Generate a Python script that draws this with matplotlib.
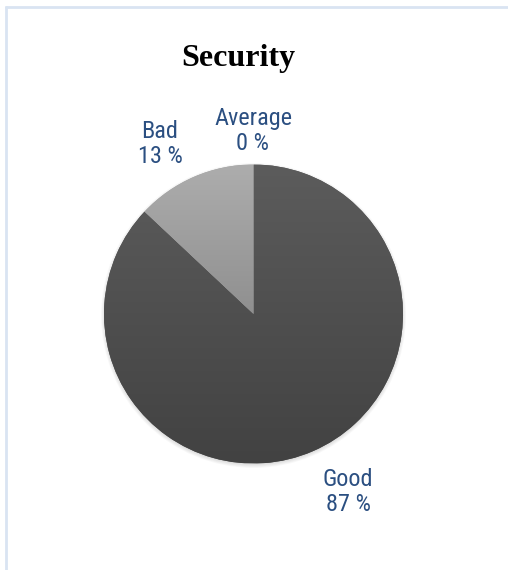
import numpy as np
import matplotlib
matplotlib.use("Agg")
from matplotlib import pyplot as plt
from matplotlib.patches import Circle
from matplotlib.lines import Line2D

# survey answers for the "Security" question
categories = ["Good", "Bad", "Average"]
shares = [87, 13, 0]

W, H = 508, 570
fig = plt.figure(figsize=(W / 100, H / 100), dpi=100)

def fx(px):
    return px / W

def fy(py):
    return 1 - py / H

# light frame on the left and top of the chart area
frame = dict(transform=fig.transFigure, color="#d9e4f2", linewidth=2,
             solid_capstyle="butt")
fig.add_artist(Line2D([fx(5.5), fx(5.5)], [fy(6), 0.0], **frame))
fig.add_artist(Line2D([fx(4.5), 1.0], [fy(7), fy(7)], **frame))

# pie axes: centre (253.5, 314) px, radius 149.5 px
cx, cy, r = 253.5, 314, 149.5
ax = fig.add_axes([fx(cx - r), fy(cy + r), 2 * r / W, 2 * r / H])

wedges, _ = ax.pie(shares, startangle=90, counterclock=False, radius=1.0,
                   colors=["#505050", "#9c9c9c", "#d0d0d0"],
                   wedgeprops=dict(linewidth=0, zorder=1))
ax.set_xlim(-1, 1)
ax.set_ylim(-1, 1)
ax.set_aspect("equal")
ax.axis("off")

# soft shadow under the pie
for k in range(6):
    ax.add_patch(Circle((0.0, -0.01), 0.995 + 0.005 * k, facecolor="#000000",
                        alpha=0.025, linewidth=0, zorder=0, clip_on=False))

# vertical shading inside each slice
grads = [("#5c5c5c", "#424242"), ("#adadad", "#727272"), ("#d0d0d0", "#b0b0b0")]
yy = np.linspace(0, 1, 256).reshape(-1, 1)
for w, (top, bot) in zip(wedges, grads):
    c0 = np.array(matplotlib.colors.to_rgb(top))
    c1 = np.array(matplotlib.colors.to_rgb(bot))
    img = c0 + (c1 - c0) * yy[:, :, None]
    img = np.repeat(img, 2, axis=1)
    im = ax.imshow(img, extent=(-1, 1, -1, 1), origin="upper", zorder=2,
                   interpolation="bilinear", aspect="auto")
    im.set_clip_path(w)

# title
fig.text(fx(238.5), fy(66), "Security", ha="center", va="baseline",
         fontfamily="Liberation Serif", fontweight="bold", fontsize=23)

# data labels
lab_font = dict(family=["Roboto Condensed", "Liberation Sans"],
                size=17.5, color="#2b4f81")
label_pos = {"Bad": (160, 163), "Average": (253, 150), "Good": (348, 511)}
for name, val in zip(categories, shares):
    x, y = label_pos[name]
    fig.text(fx(x), fy(y), f"{name}\n{val} %", ha="center", va="baseline",
             multialignment="center", linespacing=1.1, **lab_font)

fig.savefig("out.png", dpi=100)
